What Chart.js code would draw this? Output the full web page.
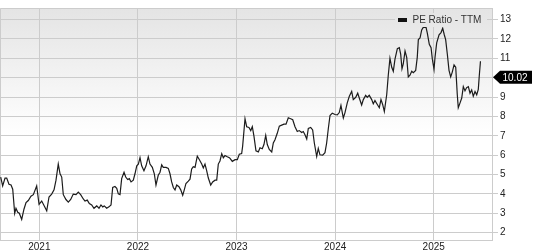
<!DOCTYPE html>
<html>
<head>
<meta charset="utf-8">
<script src="https://cdn.jsdelivr.net/npm/chart.js@4.4.1/dist/chart.umd.min.js"></script>
<style>
  html, body { margin: 0; padding: 0; background: #fff; }
  canvas { display: block; }
</style>
</head>
<body>
<canvas id="pe" width="533" height="250"></canvas>
<script>
// position of each reading along the time axis, in fractional years
const yearPos = [
  2020.608, 2020.628, 2020.652, 2020.669, 2020.692, 2020.713, 2020.730, 2020.750, 2020.763, 2020.781,
  2020.797, 2020.821, 2020.844, 2020.865, 2020.888, 2020.915, 2020.939, 2020.973, 2020.997, 2021.024,
  2021.050, 2021.075, 2021.098, 2021.125, 2021.149, 2021.169, 2021.192, 2021.210, 2021.227, 2021.243,
  2021.270, 2021.294, 2021.318, 2021.344, 2021.372, 2021.395, 2021.419, 2021.446, 2021.463, 2021.486,
  2021.507, 2021.531, 2021.554, 2021.582, 2021.605, 2021.625, 2021.643, 2021.659, 2021.683, 2021.706,
  2021.727, 2021.744, 2021.767, 2021.785, 2021.801, 2021.818, 2021.835, 2021.859, 2021.876, 2021.896,
  2021.913, 2021.930, 2021.953, 2021.970, 2021.988, 2022.004, 2022.021, 2022.038, 2022.061, 2022.082,
  2022.105, 2022.122, 2022.146, 2022.166, 2022.183, 2022.206, 2022.224, 2022.241, 2022.257, 2022.285,
  2022.308, 2022.325, 2022.342, 2022.359, 2022.376, 2022.393, 2022.416, 2022.434, 2022.454, 2022.470,
  2022.487, 2022.511, 2022.528, 2022.545, 2022.561, 2022.579, 2022.602, 2022.622, 2022.647, 2022.663,
  2022.680, 2022.697, 2022.714, 2022.738, 2022.758, 2022.782, 2022.799, 2022.815, 2022.832, 2022.850,
  2022.866, 2022.883, 2022.906, 2022.927, 2022.934, 2022.957, 2022.985, 2023.008, 2023.028, 2023.052,
  2023.062, 2023.086, 2023.103, 2023.126, 2023.144, 2023.160, 2023.177, 2023.197, 2023.221, 2023.238,
  2023.261, 2023.278, 2023.296, 2023.312, 2023.332, 2023.357, 2023.373, 2023.390, 2023.413, 2023.434,
  2023.458, 2023.481, 2023.502, 2023.525, 2023.549, 2023.570, 2023.593, 2023.616, 2023.636, 2023.661,
  2023.677, 2023.694, 2023.712, 2023.728, 2023.752, 2023.772, 2023.789, 2023.813, 2023.829, 2023.846,
  2023.874, 2023.897, 2023.914, 2023.931, 2023.948, 2023.971, 2023.999, 2024.022, 2024.042, 2024.059,
  2024.083, 2024.100, 2024.123, 2024.144, 2024.168, 2024.184, 2024.209, 2024.229, 2024.245, 2024.269,
  2024.286, 2024.310, 2024.326, 2024.346, 2024.371, 2024.387, 2024.404, 2024.428, 2024.448, 2024.465,
  2024.482, 2024.499, 2024.523, 2024.539, 2024.556, 2024.574, 2024.590, 2024.607, 2024.631, 2024.651,
  2024.665, 2024.678, 2024.691, 2024.709, 2024.726, 2024.742, 2024.759, 2024.777, 2024.793, 2024.817,
  2024.833, 2024.844, 2024.861, 2024.878, 2024.894, 2024.922, 2024.935, 2024.955, 2024.973, 2024.986,
  2025.003, 2025.013, 2025.030, 2025.054, 2025.074, 2025.091, 2025.107, 2025.121, 2025.138, 2025.155,
  2025.172, 2025.188, 2025.206, 2025.223, 2025.239, 2025.249, 2025.267, 2025.284, 2025.300, 2025.317,
  2025.334, 2025.351, 2025.368, 2025.385, 2025.401, 2025.419, 2025.436, 2025.452, 2025.462, 2025.474
];

const peValues = [
  4.87, 4.41, 4.82, 4.82, 4.50, 4.46, 4.24, 3.00, 3.26, 3.05,
  3.00, 2.68, 3.21, 3.55, 3.66, 3.88, 3.96, 4.41, 3.46, 3.63,
  3.38, 3.13, 3.84, 3.99, 4.21, 4.71, 5.54, 5.04, 4.87, 3.96,
  3.71, 3.58, 3.71, 3.99, 3.96, 4.09, 3.96, 3.74, 3.63, 3.68,
  3.50, 3.43, 3.26, 3.38, 3.26, 3.43, 3.33, 3.38, 3.26, 3.33,
  3.43, 4.33, 4.38, 4.29, 4.00, 3.96, 4.79, 5.12, 4.87, 4.74,
  4.79, 4.62, 4.71, 5.04, 5.45, 5.54, 5.87, 5.45, 5.20, 5.45,
  5.92, 5.54, 5.37, 5.04, 4.46, 4.96, 5.12, 5.50, 5.37, 5.37,
  5.32, 5.04, 4.62, 4.33, 4.21, 4.46, 4.37, 4.21, 3.93, 4.21,
  4.54, 4.66, 4.76, 5.29, 5.40, 5.37, 5.95, 5.78, 5.54, 5.34,
  5.54, 5.20, 4.82, 4.46, 4.62, 4.71, 4.71, 5.54, 5.70, 6.08,
  5.87, 5.98, 5.92, 5.87, 5.83, 5.68, 5.77, 5.77, 6.05, 6.08,
  6.47, 7.88, 7.47, 7.43, 7.27, 7.47, 6.97, 6.22, 6.17, 6.38,
  6.33, 6.55, 7.02, 6.55, 6.30, 6.17, 6.63, 6.80, 7.13, 7.50,
  7.55, 7.60, 7.60, 7.93, 7.88, 7.83, 7.47, 7.22, 7.27, 7.17,
  7.22, 7.05, 6.83, 7.38, 7.43, 7.30, 6.63, 5.93, 6.35, 6.02,
  6.00, 6.13, 6.63, 7.38, 8.05, 8.17, 8.10, 8.08, 8.20, 8.57,
  7.92, 8.20, 8.70, 9.04, 9.29, 8.87, 8.99, 9.20, 8.95, 8.59,
  8.87, 9.09, 8.99, 9.09, 8.87, 8.65, 8.82, 8.62, 8.45, 8.87,
  8.62, 8.25, 9.12, 10.13, 11.00, 10.54, 10.33, 10.96, 11.50, 11.55,
  11.21, 10.46, 10.71, 11.38, 11.05, 10.04, 10.13, 10.33, 10.26, 10.38,
  11.05, 11.97, 12.05, 12.47, 12.60, 12.60, 12.30, 11.72, 11.55, 10.96,
  10.43, 11.05, 11.80, 12.22, 12.33, 12.55, 12.22, 11.97, 11.21, 10.38,
  10.04, 10.29, 10.66, 10.54, 9.12, 8.45, 8.70, 8.95, 9.54, 9.32,
  9.49, 9.54, 9.20, 9.37, 9.04, 9.29, 9.12, 9.40, 10.10, 10.85
];

const seriesLabel = "PE Ratio - TTM";
const lastValue = 10.02;
const xTicks = [2021, 2022, 2023, 2024, 2025];
const yTicks = [2, 3, 4, 5, 6, 7, 8, 9, 10, 11, 12, 13];

const FONT = "'Liberation Sans', Arial, Helvetica, sans-serif";
const GRID = "#cccccc";

const panelBackground = {
  id: "panelBackground",
  beforeDraw(chart) {
    const { ctx, chartArea: a } = chart;
    const g = ctx.createLinearGradient(0, a.top, 0, a.bottom);
    g.addColorStop(0, "#e4e4e4");
    g.addColorStop(0.55, "#ffffff");
    g.addColorStop(1, "#ffffff");
    chart.$bg = g;
    ctx.save();
    ctx.fillStyle = g;
    ctx.fillRect(a.left, a.top, a.right - a.left, a.bottom - a.top);
    ctx.restore();
  },
  beforeDatasetsDraw(chart) {
    // left and top edges of the frame (right and bottom come from the axes)
    const { ctx, chartArea: a } = chart;
    ctx.save();
    ctx.strokeStyle = GRID;
    ctx.lineWidth = 1;
    ctx.beginPath();
    ctx.moveTo(a.left + 0.5, a.bottom);
    ctx.lineTo(a.left + 0.5, a.top + 0.5);
    ctx.lineTo(a.right, a.top + 0.5);
    ctx.stroke();
    ctx.restore();
  }
};

const legendAndTag = {
  id: "legendAndTag",
  afterDraw(chart) {
    const { ctx, chartArea: a } = chart;
    ctx.save();
    // legend
    ctx.fillStyle = chart.$bg;
    ctx.fillRect(a.right - 97, a.top + 5, 92, 14);
    ctx.fillStyle = "#111";
    ctx.fillRect(a.right - 94, a.top + 10, 9, 4);
    ctx.fillStyle = "#333";
    ctx.font = "10px " + FONT;
    ctx.textBaseline = "middle";
    ctx.textAlign = "left";
    ctx.fillText(chart.data.datasets[0].label, a.right - 79.5, a.top + 12.5);

    // last value tag
    const y = chart.scales.y.getPixelForValue(lastValue);
    const x0 = a.right + 1;
    ctx.fillStyle = "#000";
    ctx.beginPath();
    ctx.moveTo(x0, y);
    ctx.lineTo(x0 + 7, y - 6.5);
    ctx.lineTo(x0 + 39, y - 6.5);
    ctx.lineTo(x0 + 39, y + 6.5);
    ctx.lineTo(x0 + 7, y + 6.5);
    ctx.closePath();
    ctx.fill();
    ctx.fillStyle = "#fff";
    ctx.fillText(lastValue.toFixed(2), x0 + 9.5, y + 0.5);
    ctx.restore();
  }
};

const points = yearPos.map((x, i) => ({ x: x, y: peValues[i] }));

new Chart(document.getElementById("pe").getContext("2d"), {
  type: "line",
  data: {
    datasets: [
      {
        label: seriesLabel,
        data: points,
        borderColor: "#1c1c1c",
        borderWidth: 1.2,
        pointRadius: 0,
        tension: 0,
        fill: false
      }
    ]
  },
  options: {
    responsive: false,
    animation: false,
    layout: { padding: 0 },
    plugins: {
      legend: { display: false },
      tooltip: { enabled: false }
    },
    scales: {
      x: {
        type: "linear",
        min: 2020.601,
        max: 2025.591,
        afterBuildTicks: (s) => { s.ticks = xTicks.map((v) => ({ value: v })); },
        afterFit: (s) => { s.height = 10; },
        grid: { color: GRID, drawTicks: false },
        border: { color: GRID },
        ticks: {
          padding: 1,
          color: "#222",
          font: { family: FONT, size: 10 },
          maxRotation: 0,
          autoSkip: false,
          callback: (v) => String(v)
        }
      },
      y: {
        type: "linear",
        position: "right",
        min: 1.62,
        max: 13.6,
        afterBuildTicks: (s) => { s.ticks = yTicks.map((v) => ({ value: v })); },
        afterFit: (s) => { s.width = 41; },
        grid: { color: GRID, tickLength: 6 },
        border: { color: GRID },
        ticks: {
          padding: 2,
          color: "#222",
          font: { family: FONT, size: 10 },
          callback: (v) => String(v)
        }
      }
    }
  },
  plugins: [panelBackground, legendAndTag]
});
</script>
</body>
</html>
